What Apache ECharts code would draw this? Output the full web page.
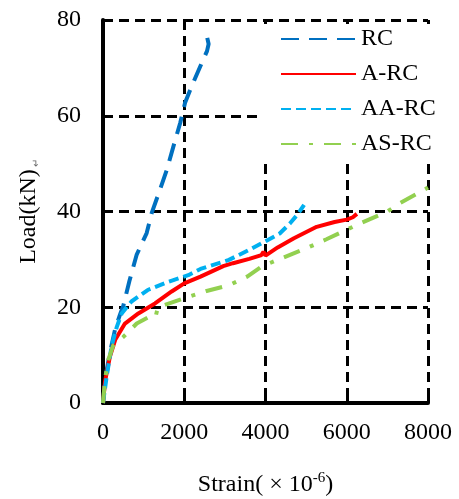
<!DOCTYPE html>
<html>
<head>
<meta charset="utf-8">
<script src="https://cdn.jsdelivr.net/npm/echarts@6/dist/echarts.min.js"></script>
<style>
    html, body { margin: 0; padding: 0; background: #fff; }
    #char1 { width: 459px; height: 499px; }
</style>
</head>
<body>
<div id="char1"></div>
<script>
// 数据
var seriesNames = ["RC", "A-RC", "AA-RC", "AS-RC"];
var seriesColors = ["#0070C0", "#FF0000", "#00B0F0", "#92D050"];

var rcData = [
    [0, 0], [50, 5], [170, 10.5], [300, 15.5], [420, 18.5], [500, 20.3], [650, 25.5],
    [830, 31], [1075, 35.5], [1200, 39.7], [1400, 44.5], [1570, 48.7], [1730, 53.5],
    [1900, 58.5], [2020, 62.7], [2180, 66.1], [2430, 71], [2560, 73.5], [2600, 75],
    [2560, 76.5], [2520, 77.3]
];
var arcData = [
    [0, 0], [50, 4.5], [170, 9.7], [300, 13.2], [540, 16.6], [870, 18.7], [1280, 20.8],
    [1690, 23.3], [2000, 25], [2400, 26.4], [2960, 28.6], [3200, 29.2], [3600, 30.1],
    [3900, 30.9], [3950, 31.6], [4000, 30.8], [4300, 32.5], [4700, 34.4], [5260, 36.8],
    [5700, 37.8], [6000, 38.3], [6150, 38.8], [6250, 39.5]
];
var aarcData = [
    [0, 0], [90, 5.5], [210, 11.8], [340, 15.9], [460, 18.7], [700, 21.2], [1100, 23.6],
    [1600, 25.3], [2100, 26.7], [2400, 28], [3100, 29.9], [3600, 32], [4000, 33.8],
    [4350, 35.4], [4600, 37.5], [4800, 39.5], [4950, 41.4]
];
var asrcData = [
    [0, 0], [50, 5], [130, 9], [250, 12], [500, 13.8], [830, 16.6], [1250, 18.5],
    [1300, 18.2], [1350, 20], [1900, 21.6], [2550, 23.4], [3100, 24.6], [3550, 26.4],
    [3900, 28.5], [4300, 29.9], [5000, 32.3], [5500, 34.2], [5900, 35.8], [6300, 37.4],
    [7000, 40], [7300, 41.7], [7900, 44.5], [8000, 45]
];
var seriesData = [rcData, arcData, aarcData, asrcData];
var lineDash = [[18, 10], "solid", [10, 5], [17, 11, 4, 11]];

var xMin = 0, xMax = 8000, xStep = 2000;
var yMin = 0, yMax = 80, yStep = 20;

char1();

function char1() {
    var myChart = echarts.init(document.getElementById("char1"));
    var fontName = "Liberation Serif";

    var series = [];
    for (var i = 0; i < seriesNames.length; i++) {
        series.push({
            name: seriesNames[i],
            type: "line",
            symbol: "none",
            z: 3 + i,
            lineStyle: {
                color: seriesColors[i],
                width: 4,
                type: lineDash[i],
            },
            itemStyle: {
                color: seriesColors[i],
            },
            data: seriesData[i],
        });
    }

    var option = {
        backgroundColor: "#fff",
        animation: false,
        grid: {
            left: 103,
            right: 31,
            top: 20,
            bottom: 96,
            outerBoundsMode: "none",
        },
        legend: {
            orient: "vertical",
            left: 263,
            top: 24,
            padding: [3, 40, 5, 17],
            itemGap: 11,
            itemWidth: 75,
            itemHeight: 14,
            backgroundColor: "#fff",
            z: 10,
            itemStyle: {
                opacity: 0,
            },
            textStyle: {
                color: "#000",
                fontFamily: fontName,
                fontSize: 24,
            },
            data: seriesNames,
        },
        xAxis: {
            type: "value",
            min: xMin,
            max: xMax,
            interval: xStep,
            name: "{a|Strain( × 10}{sup|-6}{a|)}",
            nameLocation: "middle",
            nameGap: 68,
            nameTextStyle: {
                rich: {
                    a: { fontFamily: fontName, fontSize: 24, color: "#000" },
                    sup: { fontFamily: fontName, fontSize: 15, color: "#000", padding: [0, 0, 12, 0] },
                },
            },
            axisLine: {
                lineStyle: { color: "#000", width: 4 },
            },
            axisTick: {
                inside: true,
                length: 8,
                lineStyle: { color: "#000", width: 3 },
            },
            axisLabel: {
                color: "#000",
                fontFamily: fontName,
                fontSize: 24,
                margin: 18,
                formatter: function (v) {
                    return String(v);
                },
            },
            splitLine: {
                show: true,
                lineStyle: { color: "#000", width: 3, type: [10, 6] },
            },
        },
        yAxis: {
            type: "value",
            min: yMin,
            max: yMax,
            interval: yStep,
            name: "Load(kN){s|↵}",
            nameLocation: "middle",
            nameGap: 62,
            nameTextStyle: {
                color: "#000",
                fontFamily: fontName,
                fontSize: 24,
                rich: {
                    s: { fontSize: 10, color: "#666", padding: [14, 0, 0, 2] },
                },
            },
            axisLine: {
                lineStyle: { color: "#000", width: 4 },
            },
            axisTick: {
                inside: true,
                length: 8,
                lineStyle: { color: "#000", width: 3 },
            },
            axisLabel: {
                color: "#000",
                fontFamily: fontName,
                fontSize: 24,
                margin: 22,
            },
            splitLine: {
                show: true,
                lineStyle: { color: "#000", width: 3, type: [10, 6] },
            },
        },
        series: series,
    };

    myChart.setOption(option);
    window.addEventListener("resize", function () {
        myChart.resize();
    });
}
</script>
</body>
</html>
